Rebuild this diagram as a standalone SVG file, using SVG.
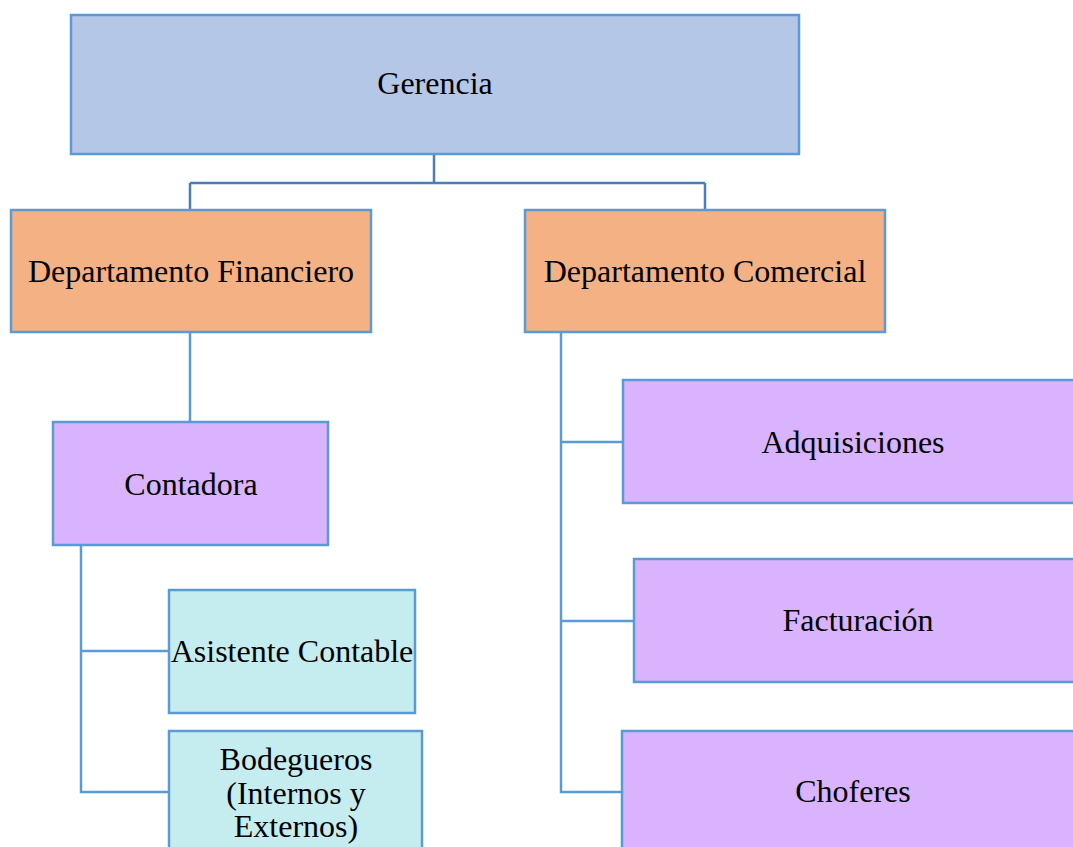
<svg xmlns="http://www.w3.org/2000/svg" width="1073" height="847" viewBox="0 0 1073 847">
<style>
.box{stroke:#5b9bd5;stroke-width:2.5}
.g{fill:#b4c7e7}
.o{fill:#f4b183}
.p{fill:#dab3fe}
.c{fill:#c5ecef}
.ln{fill:none;stroke:#5b9bd5;stroke-width:2.5}
.ln2{fill:none;stroke:#4a7eb5;stroke-width:2.5}
text{font-family:"Liberation Serif","Tinos","Times New Roman",Times,"DejaVu Serif","Noto Serif",serif;font-size:32px;fill:#000;text-anchor:middle}
</style>
<rect width="1073" height="847" fill="#fff"/>
<g id="connectors">
<path class="ln2" d="M434 154V183M190 183H705M190 183V210M705 183V210"/>
<path class="ln" d="M190 332V422"/>
<path class="ln" d="M81 545V792H169M81 651H169"/>
<path class="ln" d="M561 332V792H622M561 442H623M561 621H634"/>
</g>
<g id="gerencia"><rect class="box g" x="71" y="15" width="728" height="139"/><text x="435" y="94">Gerencia</text></g>
<g id="dep-financiero"><rect class="box o" x="11" y="210" width="360" height="122"/><text x="191" y="282">Departamento Financiero</text></g>
<g id="dep-comercial"><rect class="box o" x="525" y="210" width="360" height="122"/><text x="705" y="282">Departamento Comercial</text></g>
<g id="contadora"><rect class="box p" x="53" y="422" width="275" height="123"/><text x="191" y="495">Contadora</text></g>
<g id="asistente"><rect class="box c" x="169" y="590" width="246" height="123"/><text x="292" y="662">Asistente Contable</text></g>
<g id="bodegueros"><rect class="box c" x="169" y="731" width="253" height="130"/><text x="296" y="770">Bodegueros</text><text x="296" y="804">(Internos y</text><text x="296" y="837">Externos)</text></g>
<g id="adquisiciones"><rect class="box p" x="623" y="380" width="470" height="123"/><text x="853" y="453">Adquisiciones</text></g>
<g id="facturacion"><rect class="box p" x="634" y="559" width="460" height="123"/><text x="858" y="631">Facturación</text></g>
<g id="choferes"><rect class="box p" x="622" y="731" width="470" height="130"/><text x="853" y="802">Choferes</text></g>
</svg>
